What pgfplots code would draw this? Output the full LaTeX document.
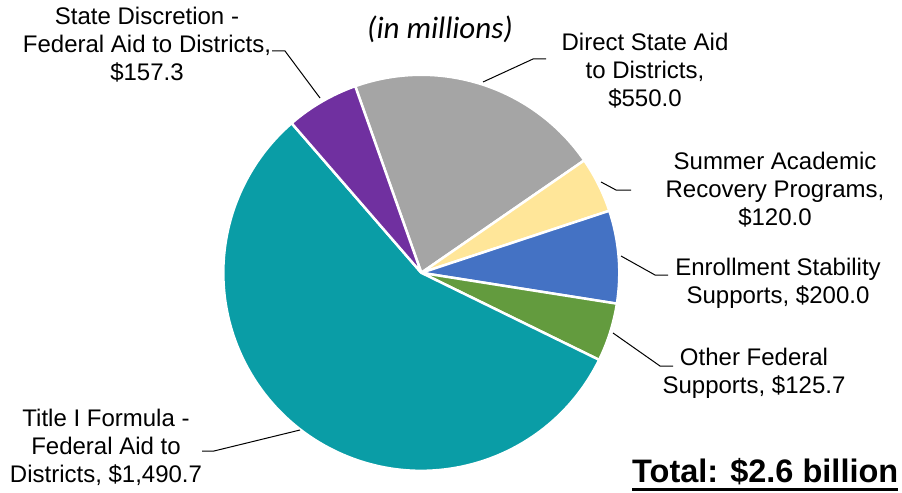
\documentclass[border=0pt]{standalone}
\usepackage{fontspec}
\setmainfont{Liberation Sans}
\newfontfamily\calibri{Carlito}
\usepackage{pgfplots}
\pgfplotsset{compat=1.18}

\definecolor{aidgray}{RGB}{165,165,165}
\definecolor{summeryellow}{RGB}{255,230,153}
\definecolor{enrollblue}{RGB}{68,114,196}
\definecolor{fedgreen}{RGB}{99,155,62}
\definecolor{titleteal}{RGB}{10,157,166}
\definecolor{discpurple}{RGB}{112,48,160}

% multi-line labels: base anchor sits on the last line
\tikzset{lbl/.style={font=\fontsize{24bp}{28bp}\selectfont, align=center, anchor=base, inner sep=0pt}}

\begin{document}
\begin{tikzpicture}
\begin{axis}[
  hide axis,
  scale only axis,
  width=902bp, height=493bp,
  xmin=0, xmax=902, ymin=0, ymax=493,
  y dir=reverse,
  clip=false,
]

% slices clockwise, starting with Direct State Aid (total 2643.7)
\def\cum{109.5}
\foreach \v/\c in {550.0/aidgray, 120.0/summeryellow, 200.0/enrollblue,
                   125.7/fedgreen, 1490.7/titleteal, 157.3/discpurple} {
  \pgfmathsetmacro\sweep{\v/2643.7*360}
  \pgfmathsetmacro\angB{\cum-\sweep}
  \edef\temp{\noexpand\fill[\c, draw=white, line width=2.5bp, line join=round]
    (axis cs:421.3,272.8) -- ++(\cum:198bp)
    arc[start angle=\cum, end angle=\angB, radius=198bp] -- cycle;}
  \temp
  \xdef\cum{\angB}
}

% leader lines
\draw[line width=1bp] (axis cs:320,98) -- (axis cs:285,51) -- (axis cs:272,51);
\draw[line width=1bp] (axis cs:483,82) -- (axis cs:533,59) -- (axis cs:546,59);
\draw[line width=1bp] (axis cs:601,182) -- (axis cs:616,190) -- (axis cs:631,190);
\draw[line width=1bp] (axis cs:621,256) -- (axis cs:655,275) -- (axis cs:668,275);
\draw[line width=1bp] (axis cs:613,333) -- (axis cs:660,366) -- (axis cs:673,366);
\draw[line width=1bp] (axis cs:300,430) -- (axis cs:214,451) -- (axis cs:202,451);

% data labels
\node[lbl] at (axis cs:147,81) {State Discretion -\\Federal Aid to Districts,\\\$157.3};
\node[lbl] at (axis cs:645,106) {Direct State Aid\\to Districts,\\\$550.0};
\node[lbl] at (axis cs:775,225) {Summer Academic\\Recovery Programs,\\\$120.0};
\node[lbl] at (axis cs:778,303) {Enrollment Stability\\Supports, \$200.0};
\node[lbl] at (axis cs:754,393) {Other Federal\\Supports, \$125.7};
\node[lbl] at (axis cs:106,482) {Title I Formula -\\Federal Aid to\\Districts, \$1,490.7};

\node[font=\calibri\itshape\fontsize{31bp}{35bp}\selectfont, anchor=base, inner sep=0pt]
  at (axis cs:440,39) {(in millions)};

\node[font=\bfseries\fontsize{32.5bp}{36bp}\selectfont, anchor=base west, inner sep=0pt]
  at (axis cs:632,482) {Total: \$2.6 billion};
\draw[line width=2.5bp] (axis cs:632,489.5) -- (axis cs:898,489.5);
\end{axis}
\pgfresetboundingbox
\path[use as bounding box] (current axis.south west) rectangle (current axis.north east);
\end{tikzpicture}
\end{document}
